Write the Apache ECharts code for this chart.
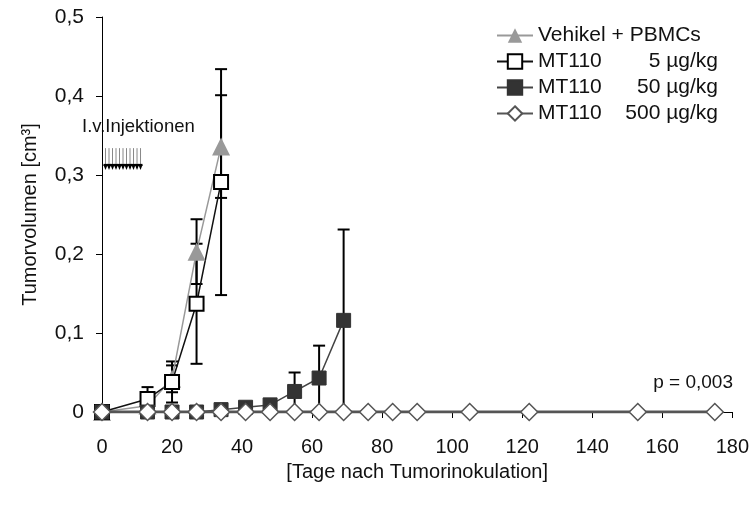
<!DOCTYPE html>
<html>
<head>
<meta charset="utf-8">
<script src="https://cdn.jsdelivr.net/npm/echarts@6/dist/echarts.min.js"></script>
<style>
  html, body { margin: 0; padding: 0; background: #fff; }
  #chart { width: 752px; height: 507px; }
</style>
</head>
<body>
<div id="chart"></div>
<script>
// days after tumour inoculation
const vehDays = [0, 13, 20, 27, 34]
const vehVals = [0, 0.008, 0.042, 0.203, 0.336]
const vehErr = [0, 0, 0.017, 0.041, 0.065]

const d5Days = [0, 13, 20, 27, 34]
const d5Vals = [0, 0.0165, 0.038, 0.137, 0.291]
const d5Err = [0, 0.015, 0.026, 0.076, 0.143]

const d50Days = [0, 13, 20, 27, 34, 41, 48, 55, 62, 69]
const d50Vals = [0, 0, 0, 0, 0.003, 0.006, 0.009, 0.026, 0.043, 0.116]
const d50Err = [0, 0, 0, 0, 0, 0, 0, 0.024, 0.041, 0.115]

const d500Days = [0, 13, 20, 27, 34, 41, 48, 55, 62, 69, 76, 83, 90, 105, 122, 153, 175]
const d500Vals = [0, 0, 0, 0, 0, 0, 0, 0, 0, 0, 0, 0, 0, 0, 0, 0, 0]

const injectionDays = [1, 2, 3, 4, 5, 6, 7, 8, 9, 10, 11]
const injTop = 0.334
const injBase = 0.309

const seriesNames = ['Vehikel + PBMCs', 'MT110 5 µg/kg', 'MT110 50 µg/kg', 'MT110 500 µg/kg']
const doseLabels = { 'MT110 5 µg/kg': '5 µg/kg', 'MT110 50 µg/kg': '50 µg/kg', 'MT110 500 µg/kg': '500 µg/kg' }

const FONT = 'Liberation Sans'
const zip = (xs, ys) => xs.map((x, i) => [x, ys[i]])
const zip3 = (xs, ys, es) => xs.map((x, i) => [x, ys[i], es[i]])

function errorSeries(days, vals, errs) {
  return {
    type: 'custom',
    silent: true,
    z: 1,
    data: zip3(days, vals, errs).filter(d => d[2] > 0),
    renderItem: function(params, api) {
      const x = api.value(0)
      const v = api.value(1)
      const e = api.value(2)
      const hi = api.coord([x, v + e])
      const lo = api.coord([x, Math.max(0, v - e)])
      const w = 6
      const style = { stroke: '#000', lineWidth: 2 }
      return {
        type: 'group',
        children: [
          { type: 'line', shape: { x1: hi[0], y1: hi[1], x2: lo[0], y2: lo[1] }, style },
          { type: 'line', shape: { x1: hi[0] - w, y1: hi[1], x2: hi[0] + w, y2: hi[1] }, style },
          { type: 'line', shape: { x1: lo[0] - w, y1: lo[1], x2: lo[0] + w, y2: lo[1] }, style }
        ]
      }
    }
  }
}

const chart = echarts.init(document.getElementById('chart'))
const option = {
  animation: false,
  textStyle: { fontFamily: FONT },
  grid: { left: 102, right: 19, top: 17, bottom: 95 },
  legend: {
    data: seriesNames,
    orient: 'vertical',
    right: 29,
    top: 20,
    itemWidth: 36,
    itemHeight: 18,
    itemGap: 5,
    textStyle: {
      fontFamily: FONT,
      fontSize: 21,
      color: '#111',
      rich: {
        a: { fontFamily: FONT, fontSize: 21, color: '#111', width: 66 },
        b: { fontFamily: FONT, fontSize: 21, color: '#111', width: 114, align: 'right' }
      }
    },
    formatter: function(name) {
      if (doseLabels[name]) {
        return '{a|MT110}{b|' + doseLabels[name] + '}'
      }
      return name
    }
  },
  xAxis: {
    type: 'value',
    min: 0,
    max: 180,
    interval: 20,
    name: '[Tage nach Tumorinokulation]',
    nameLocation: 'middle',
    nameGap: 50,
    nameTextStyle: { fontFamily: FONT, fontSize: 20, color: '#111' },
    splitLine: { show: false },
    axisLine: { lineStyle: { color: '#000', width: 1 } },
    axisTick: { length: 6, lineStyle: { color: '#000' } },
    axisLabel: { fontFamily: FONT, fontSize: 20, color: '#111', margin: 25 }
  },
  yAxis: {
    type: 'value',
    min: 0,
    max: 0.5,
    interval: 0.1,
    name: 'Tumorvolumen [cm³]',
    nameLocation: 'middle',
    nameGap: 62,
    nameTextStyle: { fontFamily: FONT, fontSize: 20, color: '#111' },
    splitLine: { show: false },
    axisLine: { show: true, lineStyle: { color: '#000', width: 1 } },
    axisTick: { show: true, length: 6, lineStyle: { color: '#000' } },
    axisLabel: {
      fontFamily: FONT,
      fontSize: 21,
      color: '#111',
      margin: 18,
      formatter: v => (v === 0 ? '0' : v.toFixed(1).replace('.', ','))
    }
  },
  graphic: [
    {
      type: 'text',
      left: 82,
      top: 117,
      style: { text: 'I.v.Injektionen', fontFamily: FONT, fontSize: 18.5, fill: '#111' }
    },
    {
      type: 'text',
      right: 19,
      top: 373,
      style: { text: 'p = 0,003', fontFamily: FONT, fontSize: 19, fill: '#111' }
    }
  ],
  series: [
    errorSeries(vehDays, vehVals, vehErr),
    errorSeries(d5Days, d5Vals, d5Err),
    errorSeries(d50Days, d50Vals, d50Err),
    {
      type: 'custom',
      silent: true,
      z: 1,
      data: injectionDays,
      renderItem: function(params, api) {
        const top = api.coord([api.value(0), injTop])
        const base = api.coord([api.value(0), injBase])
        const half = 2
        return {
          type: 'group',
          children: [
            { type: 'line', shape: { x1: top[0], y1: top[1], x2: base[0], y2: base[1] - 3 }, style: { stroke: '#888', lineWidth: 1 } },
            { type: 'line', shape: { x1: base[0] - half, y1: base[1] - 3, x2: base[0] + half, y2: base[1] - 3 }, style: { stroke: '#000', lineWidth: 2 } },
            { type: 'polygon', shape: { points: [[base[0] - half, base[1] - 3], [base[0] + half, base[1] - 3], [base[0], base[1] + 2]] }, style: { fill: '#000' } }
          ]
        }
      }
    },
    {
      name: seriesNames[0],
      type: 'line',
      data: zip(vehDays, vehVals),
      symbol: 'triangle',
      symbolSize: 18,
      lineStyle: { color: '#999', width: 1.5 },
      itemStyle: { color: '#999' }
    },
    {
      name: seriesNames[1],
      type: 'line',
      data: zip(d5Days, d5Vals),
      symbol: 'rect',
      symbolSize: 14,
      lineStyle: { color: '#111', width: 1.5 },
      itemStyle: { color: '#fff', borderColor: '#000', borderWidth: 2 }
    },
    {
      name: seriesNames[2],
      type: 'line',
      data: zip(d50Days, d50Vals),
      symbol: 'rect',
      symbolSize: 14,
      lineStyle: { color: '#444', width: 1.5 },
      itemStyle: { color: '#333', borderColor: '#333', borderWidth: 1 }
    },
    {
      name: seriesNames[3],
      type: 'line',
      data: zip(d500Days, d500Vals),
      symbol: 'diamond',
      symbolSize: 17,
      lineStyle: { color: '#555', width: 3 },
      itemStyle: { color: '#fff', borderColor: '#555', borderWidth: 1.5 }
    }
  ]
}
chart.setOption(option)
</script>
</body>
</html>
